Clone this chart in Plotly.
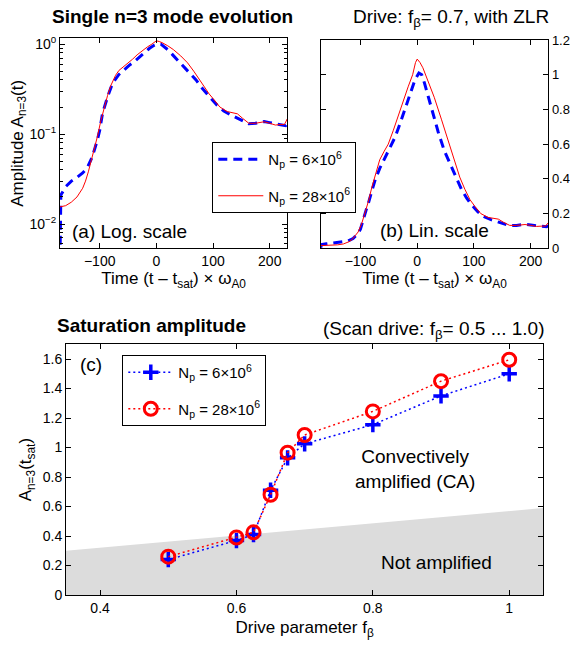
import plotly.graph_objects as go

W, H = 570, 648
FONT = "Liberation Sans, Arial, Helvetica, sans-serif"

# ---- (a)/(b): time evolution of the n=3 mode amplitude ----
t_np6 = [-170, -168.5, -160, -150, -140, -130, -122, -113, -104, -100, -95, -90,
         -86, -80, -75, -66, -57, -48, -39, -30, -22, -12, -4, 3, 8, 13, 20, 28,
         37, 48, 60, 70, 78, 87, 96, 107, 119, 130, 143, 153, 163, 175, 190,
         200, 213, 222, 228, 231]
a_np6 = [0.004, 0.021, 0.026, 0.030, 0.033, 0.037, 0.042, 0.056, 0.086, 0.11,
         0.17, 0.22, 0.26, 0.33, 0.385, 0.46, 0.52, 0.58, 0.64, 0.72, 0.80,
         0.90, 0.97, 1.01, 1.00, 0.95, 0.87, 0.77, 0.67, 0.56, 0.47, 0.40,
         0.34, 0.29, 0.25, 0.21, 0.18, 0.165, 0.15, 0.138, 0.13, 0.132,
         0.138, 0.134, 0.13, 0.127, 0.124, 0.13]

t_np28 = [-170, -160, -150, -140, -130, -125, -120, -115, -110, -104, -98, -92,
          -86, -80, -72, -66, -58, -51, -42, -34, -25, -16, -8, -3, 0, 5, 10,
          20, 30, 43, 55, 66, 75, 84, 93, 102, 112, 125, 135, 143, 152, 163,
          175, 190, 200, 210, 220, 226, 231]
a_np28 = [0.0155, 0.016, 0.0175, 0.020, 0.025, 0.030, 0.038, 0.050, 0.068,
          0.094, 0.14, 0.20, 0.27, 0.35, 0.45, 0.51, 0.56, 0.60, 0.68, 0.76,
          0.85, 0.93, 1.00, 1.07, 1.09, 1.07, 1.04, 0.96, 0.87, 0.74, 0.62,
          0.50, 0.41, 0.34, 0.28, 0.24, 0.20, 0.178, 0.172, 0.168, 0.15,
          0.132, 0.132, 0.137, 0.132, 0.126, 0.128, 0.128, 0.148]

# ---- (c): saturation amplitude versus drive parameter ----
f_beta = [0.5, 0.6, 0.625, 0.65, 0.675, 0.7, 0.8, 0.9, 1.0]
sat_np6 = [0.24, 0.37, 0.41, 0.71, 0.93, 1.025, 1.155, 1.35, 1.5]
sat_np28 = [0.26, 0.39, 0.425, 0.68, 0.965, 1.085, 1.245, 1.45, 1.595]

# boundary between the non-amplified and convectively amplified regions
bound_f = [0.35, 1.05]
bound_a = [0.30, 0.59]

lab_np6 = "N<sub>p</sub> = 6×10<sup>6</sup>"
lab_np28 = "N<sub>p</sub> = 28×10<sup>6</sup>"

BLUE = "#0000ff"
RED = "#ff0000"


def fx(px):
    return px / W


def fy(py):
    return 1 - py / H


fig = go.Figure()

# panel (a) log scale, panel (b) linear scale
for xa, ya, show in (("x", "y", True), ("x2", "y2", False)):
    fig.add_trace(go.Scatter(
        x=t_np6, y=a_np6, mode="lines", name=lab_np6, legendgroup="g1",
        showlegend=show, legend="legend",
        line=dict(color=BLUE, width=3, dash="9px,6px"),
        xaxis=xa, yaxis=ya))
    fig.add_trace(go.Scatter(
        x=t_np28, y=a_np28, mode="lines", name=lab_np28, legendgroup="g2",
        showlegend=show, legend="legend",
        line=dict(color=RED, width=1),
        xaxis=xa, yaxis=ya))

# shaded "not amplified" region
fig.add_trace(go.Scatter(
    x=[bound_f[0], bound_f[1], bound_f[1], bound_f[0]],
    y=[bound_a[0], bound_a[1], 0, 0],
    mode="lines", fill="toself", fillcolor="#dcdcdc",
    line=dict(width=0, color="#dcdcdc"), showlegend=False,
    hoverinfo="skip", xaxis="x3", yaxis="y3"))

fig.add_trace(go.Scatter(
    x=f_beta, y=sat_np6, mode="lines+markers", name=lab_np6,
    legendgroup="h1", legend="legend2",
    line=dict(color=BLUE, width=1.5, dash="2px,3px"),
    marker=dict(symbol="cross-thin", size=11, color=BLUE,
                line=dict(color=BLUE, width=3.5)),
    xaxis="x3", yaxis="y3"))
fig.add_trace(go.Scatter(
    x=f_beta, y=sat_np28, mode="lines+markers", name=lab_np28,
    legendgroup="h2", legend="legend2",
    line=dict(color=RED, width=1.5, dash="2px,3px"),
    marker=dict(symbol="circle-open", size=13, color=RED,
                line=dict(color=RED, width=3)),
    xaxis="x3", yaxis="y3"))

axis_common = dict(
    showline=True, linecolor="black", linewidth=1, mirror="ticks",
    ticks="inside", ticklen=5, tickcolor="black", tickwidth=1,
    showgrid=False, zeroline=False, automargin=False,
    tickfont=dict(size=14, color="black", family=FONT),
)
title_font = dict(size=17, color="black", family=FONT)
time_title = "Time (t – t<sub>sat</sub>) × ω<sub>A0</sub>"

legend_common = dict(
    xanchor="left", yanchor="top",
    bgcolor="white", bordercolor="black", borderwidth=1,
    font=dict(size=15, color="black", family=FONT),
    tracegroupgap=14, itemwidth=45,
)

fig.update_layout(
    width=W, height=H,
    margin=dict(l=0, r=0, t=0, b=0),
    paper_bgcolor="white", plot_bgcolor="white",
    font=dict(family=FONT, color="black"),
    xaxis=dict(axis_common, domain=[fx(60), fx(287.3)], anchor="y",
               range=[-170, 231], tickvals=[-100, 0, 100, 200],
               title=dict(text=time_title, font=title_font, standoff=4)),
    yaxis=dict(axis_common, domain=[fy(248.3), fy(38.3)], anchor="x",
               type="log", range=[-2.27, 0.065],
               tickvals=[0.01, 0.1, 1],
               ticktext=["10<sup>−2</sup>", "10<sup>−1</sup>", "10<sup>0</sup>"],
               minor=dict(ticks="inside", ticklen=3, tickcolor="black",
                          tickvals=[k * 10 ** e for e in (-3, -2, -1, 0)
                                    for k in range(2, 10)],
                          showgrid=False),
               title=dict(text="Amplitude A<sub>n=3</sub>(t)", font=title_font,
                          standoff=0)),
    xaxis2=dict(axis_common, domain=[fx(320.7), fx(548.3)], anchor="y2",
                range=[-170, 231], tickvals=[-100, 0, 100, 200],
                title=dict(text=time_title, font=title_font, standoff=4)),
    yaxis2=dict(axis_common, domain=[fy(248.3), fy(40)], anchor="x2",
                side="right", range=[0, 1.2],
                tickfont=dict(size=13, color="black", family=FONT),
                ticklabelstandoff=0,
                tickvals=[0, 0.2, 0.4, 0.6, 0.8, 1.0, 1.2],
                ticktext=["0", "0.2", "0.4", "0.6", "0.8", "1", "1.2"]),
    xaxis3=dict(axis_common, domain=[fx(66), fx(543.3)], anchor="y3",
                range=[0.35, 1.05], tickvals=[0.4, 0.6, 0.8, 1.0],
                ticktext=["0.4", "0.6", "0.8", "1"],
                title=dict(text="Drive parameter f<sub>β</sub>",
                           font=title_font, standoff=6)),
    yaxis3=dict(axis_common, domain=[fy(595), fy(344.3)], anchor="x3",
                range=[0, 1.7],
                tickvals=[0, 0.2, 0.4, 0.6, 0.8, 1.0, 1.2, 1.4, 1.6],
                ticktext=["0", "0.2", "0.4", "0.6", "0.8", "1", "1.2", "1.4", "1.6"],
                title=dict(text="A<sub>n=3</sub>(t<sub>sat</sub>)",
                           font=title_font, standoff=6)),
    legend=dict(legend_common, x=fx(212.3), y=fy(142)),
    legend2=dict(legend_common, x=fx(122.3), y=fy(355)),
)

ann = [
    ("<b>Single n=3 mode evolution</b>", 172.9, 16, 19, "center"),
    ("Drive: f<sub>β</sub>= 0.7, with ZLR", 450.8, 18, 19, "center"),
    ("<b>Saturation amplitude</b>", 151.5, 325, 19, "center"),
    ("(Scan drive: f<sub>β</sub>= 0.5 ... 1.0)", 433.7, 330, 19, "center"),
    ("(a) Log. scale", 70, 231.5, 19, "left"),
    ("(b) Lin. scale", 378.3, 230, 19, "left"),
    ("(c)", 77.7, 365, 19, "left"),
    ("Convectively<br>amplified (CA)", 415, 469, 19, "center"),
    ("Not amplified", 436.7, 562, 19, "center"),
]
for text, x, y, size, anchor in ann:
    fig.add_annotation(text=text, x=fx(x), y=fy(y), xref="paper", yref="paper",
                       xanchor=anchor, yanchor="middle", showarrow=False,
                       font=dict(size=size, color="black", family=FONT))

fig.write_html("out.html")
